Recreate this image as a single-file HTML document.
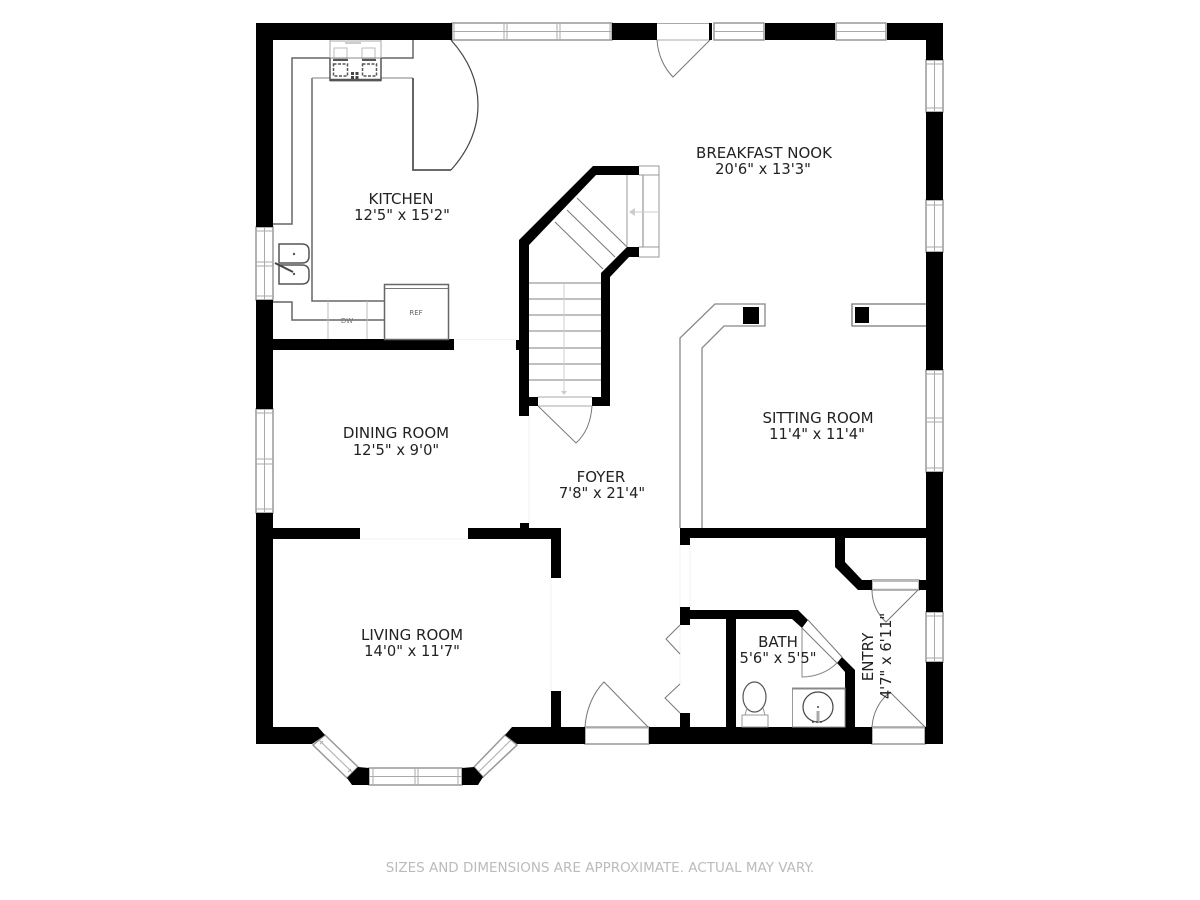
<!DOCTYPE html>
<html><head><meta charset="utf-8"><style>
html,body{margin:0;padding:0;background:#fff;width:1200px;height:900px;overflow:hidden}
svg{display:block;filter:blur(.3px)}
text{font-family:"DejaVu Sans",sans-serif;fill:#222;font-size:15px;text-anchor:middle}
.s{font-size:14.700px}
.w{fill:#fff;stroke:#999;stroke-width:1.5}
.m{fill:none;stroke:#aaa;stroke-width:1}
.d{fill:none;stroke:#777;stroke-width:1}
.g{fill:none;stroke:#666;stroke-width:1.5}
.l{fill:none;stroke:#ccc;stroke-width:1}
</style></head><body>
<svg width="1200" height="900" viewBox="0 0 1200 900" xmlns="http://www.w3.org/2000/svg">
<!-- Windows top -->
<rect class="w" x="452" y="23" width="160" height="17"/>
<path class="m" d="M452 31.500H612M454 23V40M504 23V40M507 23V40M557 23V40M560 23V40M610 23V40"/>
<path d="M657 23.500H709M657 40H709" class="m"/>
<rect class="w" x="714" y="23" width="50" height="17"/><path class="m" d="M714 31.500H764"/>
<rect class="w" x="836" y="23" width="50" height="17"/><path class="m" d="M836 31.500H886"/>
<!-- Right windows -->
<rect class="w" x="926" y="60" width="17" height="52"/><path class="m" d="M934.500 60V112M926 64H943M926 108H943"/>
<rect class="w" x="926" y="200" width="17" height="52"/><path class="m" d="M934.500 200V252M926 205H943M926 247H943"/>
<rect class="w" x="926" y="370" width="17" height="102"/><path class="m" d="M934.500 370V472M926 374H943M926 418H943M926 422H943M926 468H943"/>
<rect class="w" x="926" y="612" width="17" height="50"/><path class="m" d="M934.500 612V662M926 616H943M926 658H943"/>
<!-- Left windows -->
<rect class="w" x="256" y="227" width="17" height="73"/><path class="m" d="M264.500 227V300M256 231H273M256 296H273M256 262H273M256 266H273"/>
<rect class="w" x="256" y="409" width="17" height="104"/><path class="m" d="M264.500 409V513M256 413H273M256 509H273M256 459H273M256 464H273"/>
<!-- Bay windows -->
<polygon class="w" points="325,735 358,767 347,778 313,745"/><path class="m" d="M319 740 L352.500 772.500M323 741L320 744M351 769L348 772"/>
<rect class="w" x="369" y="768" width="93" height="17"/><path class="m" d="M369 776.500H462M373 768V785M415 768V785M418 768V785M458 768V785"/>
<polygon class="w" points="474,767 505,735 517,745 483,777"/><path class="m" d="M478.500 772L511 740"/>
<!-- Doors -->
<rect class="w" x="585" y="727" width="64" height="17"/><path d="M585 727.500H649" stroke="#aaa" stroke-width="2"/>
<path class="d" d="M585 727C586 710 593 693 604 682L648 727"/>
<rect class="w" x="872" y="727" width="53" height="17"/><path d="M872 727.500H925" stroke="#aaa" stroke-width="2"/>
<path class="d" d="M925 727L890 692C880 700 873 712 872 727"/>
<rect class="w" x="872" y="580" width="47" height="10"/><path d="M872 589.500H919" stroke="#aaa" stroke-width="1.500"/><path d="M872 581H919" stroke="#bbb" stroke-width="2"/>
<path class="d" d="M918 590L886 622C877 614 872 602 872 590"/>
<path class="d" d="M657 40C658 55 664 68 673 77L710 40"/>
<!-- Main black walls -->
<g fill="#000">
<rect x="256" y="23" width="196" height="17"/>
<rect x="612" y="23" width="45" height="17"/>
<rect x="709" y="23" width="3" height="17"/>
<rect x="765" y="23" width="70" height="17"/>
<rect x="887" y="23" width="56" height="17"/>
<rect x="256" y="23" width="17" height="204"/>
<rect x="256" y="300" width="17" height="109"/>
<polygon points="256,513 273,513 273,727 318,727 325,735 312,744 256,744"/>
<rect x="926" y="23" width="17" height="37"/>
<rect x="926" y="112" width="17" height="88"/>
<rect x="926" y="252" width="17" height="118"/>
<rect x="926" y="472" width="17" height="140"/>
<rect x="926" y="662" width="17" height="82"/>
<rect x="925" y="727" width="18" height="17"/>
<rect x="273" y="339" width="181" height="11"/>
<rect x="516" y="340" width="4" height="10"/>
<rect x="273" y="528" width="87" height="11"/>
<polygon points="468,528 561,528 561,578 551,578 551,539 468,539"/>
<rect x="520" y="523" width="9" height="6"/>
<rect x="551" y="691" width="10" height="37"/>
<polygon points="358,767 369,768 369,785 352,785 347,778"/>
<polygon points="462,768 474,767 483,777 478,785 462,785"/>
<polygon points="505,735 512,727 585,727 585,744 517,744"/>
<rect x="649" y="727" width="223" height="17"/>
<!-- stair walls -->
<polygon points="519,240 593,166 639,166 639,175 596,175 529,245 529,416 519,416"/>
<rect x="529" y="397" width="9" height="9"/>
<polygon points="592,397 601,397 601,273 627,247 639,247 639,257 629,257 610,277 610,406 592,406"/>
<!-- lower right -->
<rect x="680" y="528" width="247" height="10"/>
<rect x="680" y="528" width="10" height="17"/>
<rect x="680" y="607" width="10" height="18"/>
<rect x="680" y="713" width="10" height="14"/>
<polygon points="690,610 798,610 808,620 802,628 792,619 690,619"/>
<rect x="726" y="619" width="10" height="108"/>
<polygon points="837,663 842,657 855,670 855,727 845,727 845,672"/>
<polygon points="835,538 845,538 845,562 862,580 872,580 872,590 858,590 835,567"/>
<rect x="919" y="580" width="8" height="10"/>
<rect x="743" y="307" width="16" height="17"/>
<rect x="855" y="307" width="14" height="16"/>
</g>
<!-- Stairs -->
<path d="M529 283H601M529 299H601M529 315H601M529 331H601M529 348H601M529 364H601M529 380H601" stroke="#999" stroke-width="1.200"/>
<path class="l" d="M564 283V392"/>
<path d="M561 391h6l-3 4z" fill="#ccc"/>
<path d="M555 222L603 269M567 210L615 257M577 198L627 247" stroke="#777" stroke-width="1" fill="none"/>
<path d="M627 175V247" stroke="#999" stroke-width="1"/>
<path d="M643 175V247" stroke="#aaa" stroke-width="1.500"/>
<path class="g" style="stroke:#999;stroke-width:1" d="M639 166H659V257H639M639 175H659M639 247H659"/>
<path class="l" d="M632 212H659"/>
<path d="M629 212l6-4v8z" fill="#ccc"/>
<path class="m" d="M538 397H592M538 406H592" stroke-width="1"/>
<path class="d" d="M538 406L576 443C586 434 591 421 592 406"/>
<!-- Faint openings -->
<path d="M454 339.500H516M529 416V523M360 539H468M551 578V691M680 545V607M690 545V607M680 625V684" stroke="#f2f2f2" stroke-width="1" fill="none"/>
<!-- Double door at foyer -->
<path class="d" d="M680 625L666 639L680 654M680 684L665 698L680 713"/>
<!-- Kitchen -->
<path class="g" d="M413 40V58H292V224H273"/>
<path class="g" d="M312 78V301H384"/>
<path d="M312 78H330M381 78H413" stroke="#999" stroke-width="1.200"/>
<path d="M413 78V170H451" stroke="#555" stroke-width="1.800" fill="none"/>
<path d="M451 40C487 80 487 130 451 170" stroke="#444" stroke-width="1.200" fill="none"/>
<path class="g" d="M273 302H292V320H384"/>
<path d="M328 301V339M367 301V339" stroke="#bbb" stroke-width="1"/>
<rect x="384.500" y="284.500" width="64" height="55" fill="#fff" stroke="#666" stroke-width="1.500"/>
<path d="M385 288.500H448" stroke="#777" stroke-width="1"/>
<text x="416" y="315" style="font-size:7px;fill:#666">REF</text>
<text x="347" y="323" style="font-size:7px;fill:#777">DW</text>
<!-- Sink -->
<path class="g" style="stroke:#555" d="M279 244H302Q309 244 309 251V256Q309 263 302 263H279ZM279 265H302Q309 265 309 272V277Q309 284 302 284H279Z"/>
<path d="M275 263L293 272" stroke="#444" stroke-width="2"/>
<circle cx="294" cy="254" r="1.200" fill="#555"/><circle cx="294" cy="274" r="1.200" fill="#555"/>
<!-- Stove -->
<rect x="330" y="41" width="51" height="40" fill="#fff" stroke="#aaa" stroke-width="1"/>
<path d="M330 80H381" stroke="#555" stroke-width="2.500"/>
<path d="M345 43H361" stroke="#bbb" stroke-width="1.500"/>
<rect x="334" y="48" width="13" height="11" fill="none" stroke="#bbb"/>
<rect x="362" y="48" width="13" height="11" fill="none" stroke="#bbb"/>
<path d="M330 58H381" stroke="#888" stroke-width="1"/>
<path d="M333 60H348M362 60H376" stroke="#555" stroke-width="2"/>
<rect x="333.500" y="64" width="14" height="12" fill="#fff" stroke="#555" stroke-width="1.500" stroke-dasharray="3 1.500"/>
<rect x="362.500" y="64" width="14" height="12" fill="#fff" stroke="#555" stroke-width="1.500" stroke-dasharray="3 1.500"/>
<rect x="351" y="72" width="3" height="3" fill="#444"/><rect x="355.500" y="72" width="3" height="3" fill="#444"/>
<rect x="351" y="76" width="3" height="3" fill="#444"/><rect x="355.500" y="76" width="3" height="3" fill="#444"/>
<path d="M330 40V58M381 40V58" stroke="#aaa" stroke-width="1"/>
<path d="M330 58V81M381 58V81" stroke="#555" stroke-width="1.500"/>
<!-- Sitting partitions -->
<path d="M680 528V338L715 304H765V326H724L702 348V528" stroke="#888" stroke-width="1.300" fill="none"/>
<path d="M926 304H852V326H926" stroke="#777" stroke-width="1.300" fill="none"/>
<!-- Bath -->
<path class="d" d="M808 620L842 657M802 628L837 663"/>
<path class="d" style="stroke:#888" d="M802 628V677C815 677 828 672 837 663"/>
<rect x="792.500" y="688" width="52.500" height="39" fill="none" stroke="#999" stroke-width="1"/>
<path d="M792 688.500H845" stroke="#888" stroke-width="2"/>
<circle cx="818" cy="707" r="15" fill="none" stroke="#444" stroke-width="1.200"/>
<circle cx="818" cy="707" r="1" fill="#444"/>
<path d="M818 711V722" stroke="#aaa" stroke-width="3"/><path d="M812 722H824" stroke="#444" stroke-width="1.500" stroke-dasharray="2 2"/>
<ellipse cx="754.500" cy="697" rx="11.500" ry="15" fill="#fff" stroke="#555" stroke-width="1.200"/>
<rect x="742" y="715" width="26" height="12" fill="#fff" stroke="#999" stroke-width="1"/>
<path d="M745 715L747 708M765 715L763 708" stroke="#999"/>
<!-- Labels -->
<text x="401" y="204">KITCHEN</text>
<text class="s" x="402" y="220">12'5" x 15'2"</text>
<text x="764" y="158">BREAKFAST NOOK</text>
<text class="s" x="763" y="174">20'6" x 13'3"</text>
<text x="396" y="438">DINING ROOM</text>
<text class="s" x="396" y="455">12'5" x 9'0"</text>
<text x="601" y="482">FOYER</text>
<text class="s" x="602" y="498">7'8" x 21'4"</text>
<text x="818" y="423">SITTING ROOM</text>
<text class="s" x="817" y="439">11'4" x 11'4"</text>
<text x="412" y="640">LIVING ROOM</text>
<text class="s" x="412" y="656">14'0" x 11'7"</text>
<text x="778" y="647">BATH</text>
<text class="s" x="778" y="663">5'6" x 5'5"</text>
<text transform="translate(873 657) rotate(-90)">ENTRY</text>
<text class="s" transform="translate(891 656) rotate(-90)">4'7" x 6'11"</text>
<text x="600" y="872" style="font-size:13.500px;fill:#bbb">SIZES AND DIMENSIONS ARE APPROXIMATE. ACTUAL MAY VARY.</text>
</svg>
</body></html>
